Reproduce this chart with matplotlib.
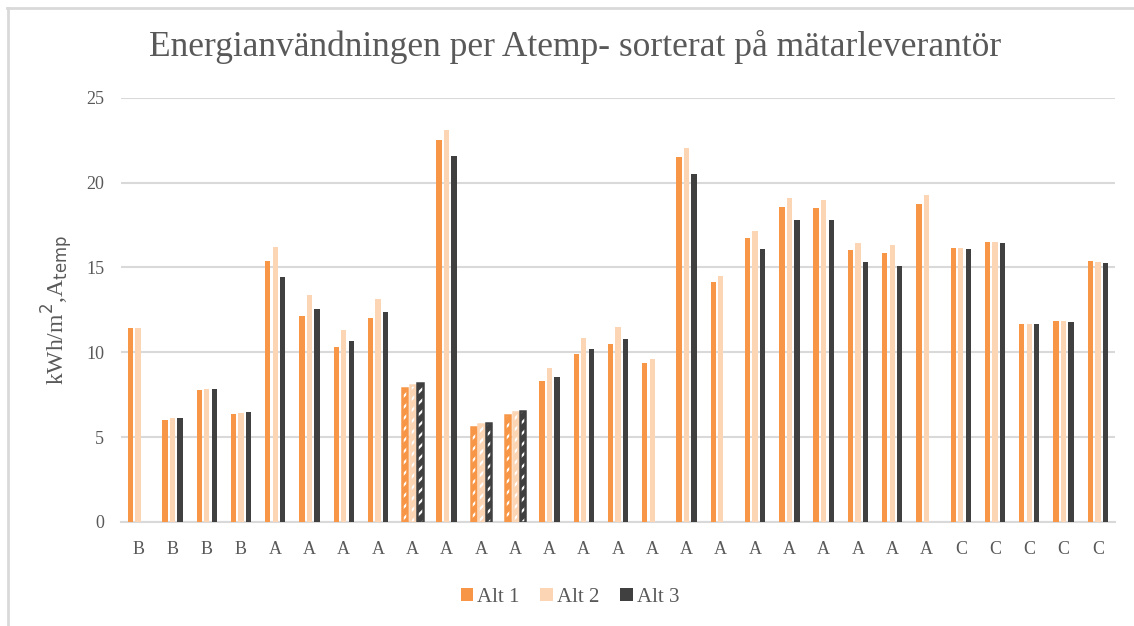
import matplotlib
matplotlib.use("Agg")
import matplotlib.pyplot as plt
from matplotlib.lines import Line2D
from matplotlib.patches import Patch
import numpy as np

categories = ["B", "B", "B", "B",
              "A", "A", "A", "A", "A", "A", "A", "A", "A", "A", "A", "A", "A", "A", "A", "A", "A", "A", "A", "A",
              "C", "C", "C", "C", "C"]

alt1 = [11.45, 6.03, 7.78, 6.35, 15.4, 12.16, 10.33, 12.0, 7.9, 22.49, 5.62, 6.32, 8.29, 9.9, 10.49,
        9.35, 21.51, 14.12, 16.75, 18.56, 18.48, 16.01, 15.85, 18.72, 16.15, 16.52, 11.69, 11.84, 15.4]
alt2 = [11.45, 6.11, 7.84, 6.4, 16.22, 13.36, 11.31, 13.12, 8.05, 23.1, 5.77, 6.46, 9.06, 10.86, 11.47,
        9.59, 22.04, 14.48, 17.13, 19.09, 18.96, 16.44, 16.3, 19.25, 16.15, 16.52, 11.69, 11.84, 15.32]
alt3 = [np.nan, 6.11, 7.84, 6.48, 14.42, 12.53, 10.65, 12.37, 8.19, 21.59, 5.85, 6.54, 8.53, 10.18, 10.78,
        np.nan, 20.53, np.nan, 16.07, 17.81, 17.81, 15.3, 15.09, np.nan, 16.07, 16.44, 11.69, 11.77, 15.24]
hatched_groups = [8, 10, 11]

series_names = ["Alt 1", "Alt 2", "Alt 3"]
colors = ["#F79646", "#FCD5B5", "#404040"]

plt.rcParams['font.family'] = ['Liberation Serif', 'DejaVu Serif']
plt.rcParams['hatch.linewidth'] = 1.6

W, H = 1134, 626
fig = plt.figure(figsize=(W / 100, H / 100), dpi=100)
ax = fig.add_axes([121 / W, 1 - 522 / H, (1115 - 121) / W, (522 - 97.7) / H * 1.0])

n = len(categories)
x = np.arange(n)
width = 0.155
offset = 0.219
grey_text = "#595959"

for i, (vals, col) in enumerate(zip([alt1, alt2, alt3], colors)):
    pos = x + (i - 1) * offset
    v = np.array(vals, dtype=float)
    normal = [j for j in range(n) if j not in hatched_groups]
    ax.bar(pos[normal], np.nan_to_num(v[normal]), width=width, color=col, zorder=3, linewidth=0)
    # hatched (patterned) bars
    hp = pos[hatched_groups]
    hv = v[hatched_groups]
    ax.bar(hp, hv, width=width, color=col, edgecolor="white", hatch="///", linewidth=0, zorder=3)
    ax.bar(hp, hv, width=width, fill=False, edgecolor=col, linewidth=1.8, zorder=4)

ax.set_xlim(-0.5, n - 0.5)
ax.set_ylim(0, 25)
ax.set_yticks([0, 5, 10, 15, 20, 25])
ax.yaxis.grid(True, color="#D9D9D9", linewidth=1.5, zorder=0)
ax.set_axisbelow(True)
for s in ["top", "right", "left"]:
    ax.spines[s].set_visible(False)
ax.spines["bottom"].set_color("#D9D9D9")
ax.spines["bottom"].set_linewidth(1.5)
ax.set_xticks(x)
ax.set_xticklabels(categories)
ax.tick_params(axis="both", length=0, labelsize=13, colors=grey_text)
ax.tick_params(axis="x", pad=14)
ax.tick_params(axis="y", pad=12)

ax.set_ylabel(r"kWh/m$^2$,A$_{\mathrm{temp}}$", fontsize=17, color=grey_text, labelpad=8)

fig.text(575 / W, 1 - 47 / H, "Energianvändningen per Atemp- sorterat på mätarleverantör",
         ha="center", va="center", fontsize=25.5, color=grey_text)

handles = [Patch(facecolor=c, edgecolor="none") for c in colors]
fig.legend(handles, series_names, loc="center", bbox_to_anchor=(570 / W, 1 - 597 / H), ncol=3,
           frameon=False, fontsize=15, handlelength=0.6, handleheight=0.6, handletextpad=0.2,
           columnspacing=1.0, labelcolor=grey_text)

# outer frame lines (top and left)
fig.add_artist(Line2D([7 / W, 1], [1 - 8 / H, 1 - 8 / H], color="#D9D9D9", linewidth=2, transform=fig.transFigure))
fig.add_artist(Line2D([8 / W, 8 / W], [1 - 8 / H, 0], color="#D9D9D9", linewidth=2, transform=fig.transFigure))

fig.savefig("out.png", dpi=100, facecolor="white")
